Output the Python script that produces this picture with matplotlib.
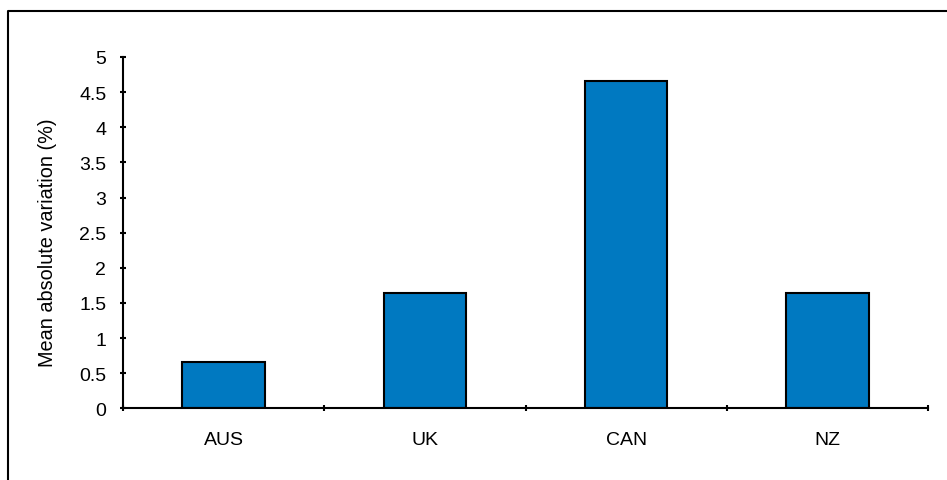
import matplotlib.pyplot as plt
from matplotlib.lines import Line2D

countries = ["AUS", "UK", "CAN", "NZ"]
variation = [0.66, 1.64, 4.66, 1.64]

plt.rcParams['font.family'] = ['Liberation Sans', 'DejaVu Sans']

fig = plt.figure(figsize=(9.47, 4.81), dpi=100)
ax = fig.add_axes([123/947, 1 - 409.3/481, (928 - 123)/947, (409.3 - 58)/481])

xlocs = list(range(len(countries)))
ax.bar(xlocs, variation, width=0.41, color="#0079C1", edgecolor="black", linewidth=1.5)

ax.set_xlim(-0.5, len(countries) - 0.5)
ax.set_ylim(0, 5)
ax.set_yticks([i * 0.5 for i in range(11)])
ax.set_yticklabels(["0", "0.5", "1", "1.5", "2", "2.5", "3", "3.5", "4", "4.5", "5"])

# boundary ticks without labels, category names on minor ticks
ax.set_xticks([i - 0.5 for i in range(len(countries) + 1)])
ax.set_xticklabels([])
ax.set_xticks(xlocs, minor=True)
ax.set_xticklabels(countries, minor=True)
ax.tick_params(axis="x", which="minor", length=0, pad=16, labelsize=14)
ax.tick_params(axis="x", which="major", direction="inout", length=5, width=1.5)
ax.tick_params(axis="y", direction="inout", length=5, width=1.5, pad=9.5, labelsize=14)

for side in ["top", "right"]:
    ax.spines[side].set_visible(False)
for side in ["left", "bottom"]:
    ax.spines[side].set_linewidth(1.5)

fig.text(47.5/947, 1 - 242.5/481, "Mean absolute variation (%)", rotation=90,
         ha="center", va="center", fontsize=14.3)

# outer frame (cut off at right and bottom)
fig.add_artist(Line2D([8/947, 8/947, 1.05], [-0.05, 1 - 12/481, 1 - 12/481],
                      transform=fig.transFigure, color="black", linewidth=1.5))

fig.savefig("out.png", dpi=100)
